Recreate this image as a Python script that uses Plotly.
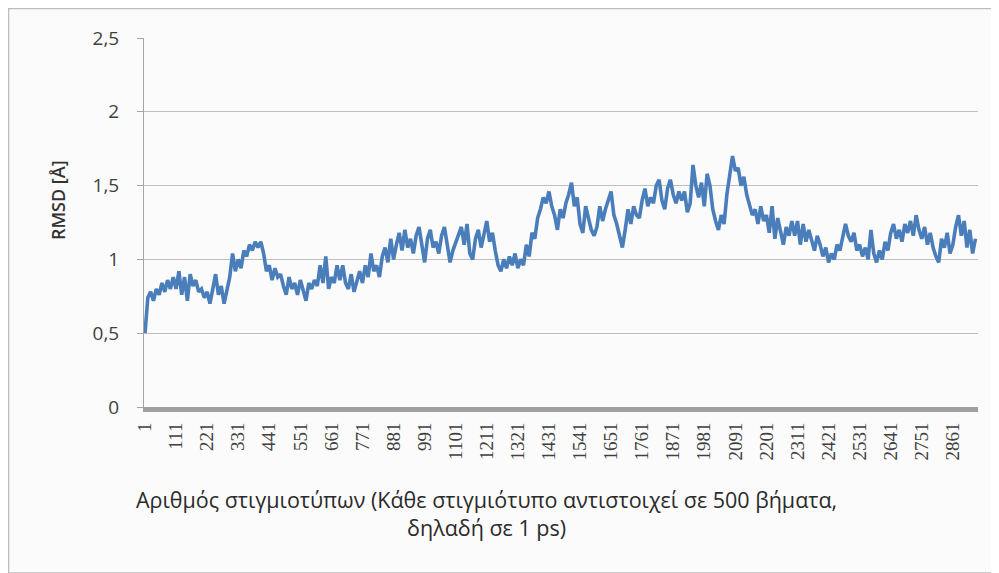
import plotly.graph_objects as go

# Sampled frames (every 10th snapshot)
frames = list(range(1, 2942, 10))

# RMSD values [Å]
rmsd = [
    0.50, 0.74, 0.78, 0.72, 0.80, 0.76, 0.84, 0.78, 0.86, 0.80,
    0.88, 0.80, 0.92, 0.76, 0.88, 0.72, 0.90, 0.82, 0.86, 0.78,
    0.80, 0.74, 0.78, 0.70, 0.80, 0.90, 0.76, 0.82, 0.70, 0.78,
    0.88, 1.04, 0.92, 1.00, 0.94, 1.06, 1.02, 1.10, 1.06, 1.12,
    1.08, 1.12, 1.04, 0.92, 0.96, 0.86, 0.94, 0.88, 0.90, 0.82,
    0.76, 0.88, 0.80, 0.84, 0.76, 0.86, 0.78, 0.72, 0.84, 0.80,
    0.86, 0.82, 0.96, 0.84, 1.02, 0.80, 0.88, 0.84, 0.96, 0.86,
    0.96, 0.84, 0.80, 0.90, 0.78, 0.86, 0.92, 0.84, 0.96, 0.88,
    1.04, 0.92, 0.96, 0.88, 1.02, 1.08, 0.98, 1.14, 1.00, 1.10,
    1.18, 1.06, 1.20, 1.08, 1.14, 1.04, 1.16, 1.22, 1.10, 0.98,
    1.14, 1.20, 1.08, 1.12, 1.04, 1.16, 1.22, 1.10, 0.98, 1.06,
    1.12, 1.18, 1.22, 1.10, 1.24, 1.04, 1.00, 1.14, 1.20, 1.08,
    1.16, 1.26, 1.12, 1.18, 1.06, 0.96, 0.92, 1.00, 0.94, 1.02,
    0.96, 1.04, 0.94, 1.00, 0.96, 1.10, 1.02, 1.18, 1.14, 1.28,
    1.34, 1.42, 1.38, 1.46, 1.36, 1.30, 1.20, 1.34, 1.28, 1.38,
    1.44, 1.52, 1.36, 1.42, 1.24, 1.18, 1.36, 1.28, 1.20, 1.16,
    1.22, 1.36, 1.26, 1.34, 1.40, 1.46, 1.30, 1.24, 1.16, 1.08,
    1.20, 1.34, 1.24, 1.36, 1.30, 1.28, 1.40, 1.48, 1.36, 1.42,
    1.38, 1.50, 1.54, 1.40, 1.34, 1.48, 1.54, 1.44, 1.38, 1.46,
    1.40, 1.46, 1.32, 1.38, 1.64, 1.50, 1.42, 1.52, 1.36, 1.58,
    1.50, 1.34, 1.26, 1.20, 1.30, 1.24, 1.44, 1.56, 1.70, 1.60,
    1.62, 1.50, 1.56, 1.44, 1.38, 1.30, 1.34, 1.24, 1.36, 1.26,
    1.30, 1.18, 1.36, 1.14, 1.28, 1.20, 1.10, 1.22, 1.16, 1.26,
    1.16, 1.26, 1.10, 1.24, 1.12, 1.20, 1.14, 1.06, 1.16, 1.10,
    1.02, 1.08, 0.98, 1.04, 1.00, 1.10, 1.06, 1.14, 1.24, 1.16,
    1.12, 1.18, 1.06, 1.10, 1.02, 1.08, 1.00, 1.20, 1.04, 0.98,
    1.06, 1.00, 1.12, 1.06, 1.18, 1.24, 1.14, 1.20, 1.12, 1.24,
    1.18, 1.26, 1.16, 1.30, 1.20, 1.14, 1.22, 1.10, 1.18, 1.08,
    1.02, 0.98, 1.14, 1.08, 1.18, 1.04, 1.10, 1.22, 1.30, 1.16,
    1.26, 1.08, 1.20, 1.04, 1.14,
]

x_tick_vals = [1, 111, 221, 331, 441, 551, 661, 771, 881, 991, 1101, 1211,
               1321, 1431, 1541, 1651, 1761, 1871, 1981, 2091, 2201, 2311,
               2421, 2531, 2641, 2751, 2861]
x_tick_text = [str(v) for v in x_tick_vals]

y_tick_vals = [0, 0.5, 1, 1.5, 2, 2.5]
y_tick_text = ["0", "0,5", "1", "1,5", "2", "2,5"]

x_title = "Αριθμός στιγμιοτύπων (Κάθε στιγμιότυπο αντιστοιχεί σε 500 βήματα,<br>δηλαδή σε 1 ps)"
y_title = "RMSD [Å]"

fig = go.Figure()
fig.add_trace(go.Scatter(
    x=frames, y=rmsd, mode="lines",
    line=dict(color="#4a7ebb", width=3.6),
    showlegend=False, hoverinfo="skip",
))

# page offset of the figure (browser body margin)
OFF = 8
W, H = 999 - OFF, 573 - OFF
L, R, T, B = 144 - OFF, 21, 38 - OFF, 166
pw, ph = W - L - R, H - T - B

def px2paper_x(px):
    return (px - OFF - L) / pw

def py2paper_y(py):
    return (H - B - (py - OFF)) / ph

fig.update_layout(
    width=W, height=H,
    margin=dict(l=L, r=R, t=T, b=B),
    paper_bgcolor="#fbfbfb",
    plot_bgcolor="rgba(0,0,0,0)",
    separators=", ",
    xaxis=dict(
        range=[-2.5, 2950],
        tickmode="array", tickvals=x_tick_vals, ticktext=x_tick_text,
        tickangle=-90,
        tickfont=dict(family="Liberation Serif", size=19, color="#404040"),
        showgrid=False, zeroline=False,
        showline=True, linecolor="#a0a0a0", linewidth=5,
        ticks="", ticklabelstandoff=3,
    ),
    yaxis=dict(
        range=[0, 2.5],
        tickmode="array", tickvals=y_tick_vals, ticktext=y_tick_text,
        tickfont=dict(family="Open Sans", size=19, color="#404040"),
        showgrid=True, gridcolor="#bfbfbf", gridwidth=1,
        zeroline=False,
        showline=True, linecolor="#a6a6a6", linewidth=1,
        ticks="outside", ticklen=6, tickcolor="#a6a6a6",
        ticklabelstandoff=14,
    ),
    shapes=[
        dict(type="rect", xref="paper", yref="paper",
             x0=px2paper_x(8.5), x1=px2paper_x(997),
             y0=py2paper_y(573), y1=py2paper_y(8.5),
             line=dict(color="#bdbdbd", width=1.5),
             fillcolor="rgba(0,0,0,0)", layer="below"),
    ],
    annotations=[
        dict(text=y_title, xref="paper", yref="paper",
             x=px2paper_x(58), y=py2paper_y(200), textangle=-90,
             showarrow=False, xanchor="center", yanchor="middle",
             font=dict(family="Open Sans", size=18, color="#333333", weight=600),
             ),
        dict(text=x_title, xref="paper", yref="paper",
             x=px2paper_x(486), y=py2paper_y(513),
             showarrow=False, xanchor="center", yanchor="middle",
             align="center",
             font=dict(family="Open Sans", size=21.5, color="#2a2a2a", weight=500)),
    ],
)

fig.write_html("out.html")
